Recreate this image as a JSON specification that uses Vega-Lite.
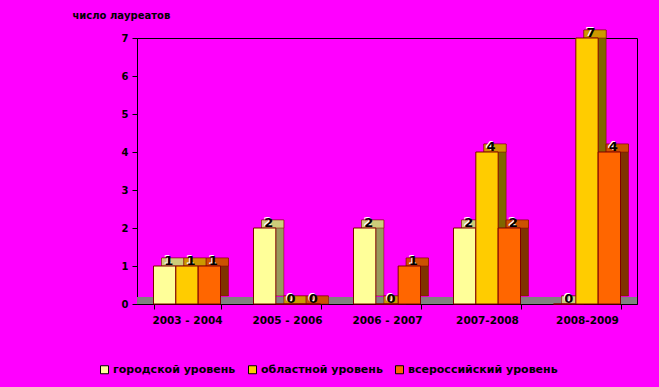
{
  "$schema": "https://vega.github.io/schema/vega-lite/v6.json",
  "width": 500,
  "height": 266,
  "autosize": "none",
  "padding": {"left": 137, "top": 38, "right": 22, "bottom": 83},
  "background": "#FF00FF",
  "config": {
    "view": {"stroke": "black", "strokeWidth": 1},
    "font": "DejaVu Sans",
    "axisY": {
      "labelFontWeight": "bold", "labelFontSize": 10, "labelColor": "black",
      "gridColor": "black", "gridOpacity": 1, "domainColor": "black",
      "tickColor": "black", "tickSize": 5, "labelPadding": 4,
      "titleAngle": 0, "titleX": -65, "titleY": -23,
      "titleAlign": "left", "titleBaseline": "middle", "titleFontSize": 10, "titleFontWeight": "bold"
    },
    "axisX": {
      "labelAngle": 0, "labelFontWeight": "bold", "labelFontSize": 10.5,
      "labelColor": "black", "domainColor": "black", "tickColor": "black",
      "tickBand": "extent", "tickSize": 5, "labelPadding": 6, "grid": false
    }
  },
  "data": {
    "values": [
      {"period": "2003 - 2004", "level": "городской уровень", "count": 1},
      {"period": "2003 - 2004", "level": "областной уровень", "count": 1},
      {"period": "2003 - 2004", "level": "всероссийский уровень", "count": 1},
      {"period": "2005 - 2006", "level": "городской уровень", "count": 2},
      {"period": "2005 - 2006", "level": "областной уровень", "count": 0},
      {"period": "2005 - 2006", "level": "всероссийский уровень", "count": 0},
      {"period": "2006 - 2007", "level": "городской уровень", "count": 2},
      {"period": "2006 - 2007", "level": "областной уровень", "count": 0},
      {"period": "2006 - 2007", "level": "всероссийский уровень", "count": 1},
      {"period": "2007-2008", "level": "городской уровень", "count": 2},
      {"period": "2007-2008", "level": "областной уровень", "count": 4},
      {"period": "2007-2008", "level": "всероссийский уровень", "count": 2},
      {"period": "2008-2009", "level": "городской уровень", "count": 0},
      {"period": "2008-2009", "level": "областной уровень", "count": 7},
      {"period": "2008-2009", "level": "всероссийский уровень", "count": 4}
    ]
  },
  "layer": [
    {
      "data": {"values": [{}]},
      "mark": {"type": "rule", "color": "#808080", "strokeWidth": 7, "yOffset": -3.5},
      "encoding": {
        "y": {"datum": 0, "type": "quantitative", "scale": {"domain": [0, 7], "nice": false},
              "axis": {"title": "число лауреатов", "values": [0, 1, 2, 3, 4, 5, 6, 7], "format": "d"}}
      }
    },
    {
      "encoding": {
        "x": {
          "field": "period", "type": "nominal", "sort": null,
          "scale": {"paddingInner": 0.33, "paddingOuter": 0.165},
          "axis": {"title": null}
        },
        "y": {
          "field": "count", "type": "quantitative",
          "scale": {"domain": [0, 7], "nice": false},
          "axis": {"title": "число лауреатов", "values": [0, 1, 2, 3, 4, 5, 6, 7], "format": "d"}
        }
      },
      "layer": [
        {
          "mark": {"type": "bar", "yOffset": -8, "y2Offset": -8, "stroke": "#800000", "strokeWidth": 0.5},
          "encoding": {
            "xOffset": {
              "field": "level", "type": "nominal",
              "sort": ["городской уровень", "областной уровень", "всероссийский уровень"],
              "scale": {"range": [8, 75]}
            },
            "color": {
              "field": "level", "type": "nominal",
              "scale": {"domain": ["городской уровень", "областной уровень", "всероссийский уровень"], "range": ["#99995C", "#806600", "#803300"]},
              "legend": null
            }
          }
        },
        {
          "mark": {"type": "bar", "yOffset": -8, "y2Offset": 0, "stroke": "#800000", "strokeWidth": 0.5},
          "encoding": {
            "xOffset": {
              "field": "level", "type": "nominal",
              "sort": ["городской уровень", "областной уровень", "всероссийский уровень"],
              "scale": {"range": [8, 75]}
            },
            "y2": {"field": "count"},
            "color": {
              "field": "level", "type": "nominal",
              "scale": {"domain": ["городской уровень", "областной уровень", "всероссийский уровень"], "range": ["#CCCC7A", "#CC9900", "#CC5200"]},
              "legend": null
            }
          }
        },
        {
          "mark": {"type": "bar", "stroke": "#800000", "strokeWidth": 1},
          "encoding": {
            "xOffset": {
              "field": "level", "type": "nominal",
              "sort": ["городской уровень", "областной уровень", "всероссийский уровень"],
              "scale": {"range": [0, 67]}
            },
            "color": {
              "field": "level", "type": "nominal",
              "scale": {"domain": ["городской уровень", "областной уровень", "всероссийский уровень"], "range": ["#FFFF99", "#FFCC00", "#FF6600"]},
              "legend": {
                "title": null, "orient": "none", "legendX": -38, "legendY": 326,
                "direction": "horizontal", "symbolType": "square", "symbolSize": 64,
                "symbolStrokeColor": "black", "symbolStrokeWidth": 1,
                "labelFont": "DejaVu Sans", "labelFontWeight": "bold", "labelFontSize": 11, "labelColor": "black",
                "columnPadding": 10, "labelOffset": 3
              }
            }
          }
        },
        {
          "mark": {"type": "text", "fontWeight": "bold", "fontSize": 13, "color": "white", "dx": 3, "dy": -6, "baseline": "middle"},
          "encoding": {
            "xOffset": {
              "field": "level", "type": "nominal",
              "sort": ["городской уровень", "областной уровень", "всероссийский уровень"],
              "scale": {"range": [0, 67]}
            },
            "text": {"field": "count", "type": "quantitative"}
          }
        },
        {
          "mark": {"type": "text", "fontWeight": "bold", "fontSize": 13, "color": "black", "dx": 4, "dy": -5, "baseline": "middle"},
          "encoding": {
            "xOffset": {
              "field": "level", "type": "nominal",
              "sort": ["городской уровень", "областной уровень", "всероссийский уровень"],
              "scale": {"range": [0, 67]}
            },
            "text": {"field": "count", "type": "quantitative"}
          }
        }
      ],
      "resolve": {"scale": {"color": "independent", "xOffset": "independent"}}
    }
  ]
}
